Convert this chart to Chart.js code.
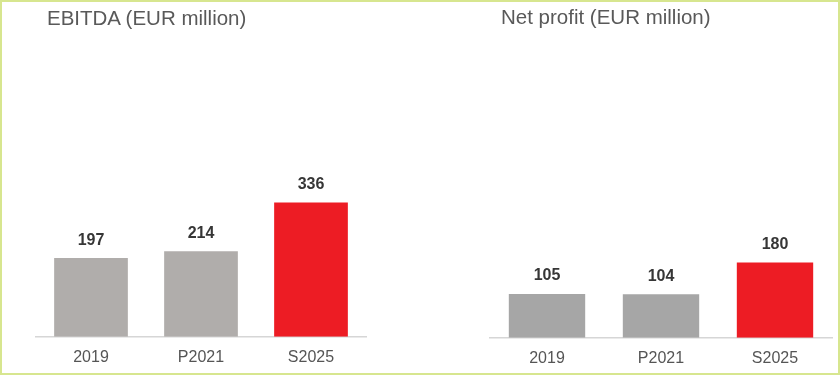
<!DOCTYPE html>
<html>
<head>
<meta charset="utf-8">
<script src="https://cdn.jsdelivr.net/npm/chart.js@4/dist/chart.umd.min.js"></script>
<style>
    html, body { margin: 0; padding: 0; background: #fff; overflow: hidden; }
    #frame {
        position: absolute; left: 0; top: 0; width: 840px; height: 375px;
        box-sizing: border-box; border: 2px solid #d7e68f; z-index: 2;
    }
    .box { position: absolute; top: 0; width: 420px; height: 375px; overflow: hidden; }
    .box canvas { position: absolute; left: 0; top: 0; }
    .title {
        position: absolute; font-family: 'Liberation Sans', Arial, sans-serif;
        font-size: 20.5px; line-height: 24px; color: #595959; white-space: nowrap;
    }
</style>
</head>
<body>
<div id="frame"></div>
<div class="box" style="left:0"><canvas id="ebitdaChart" width="420" height="388"></canvas></div>
<div class="box" style="left:420px"><canvas id="netChart" width="420" height="388"></canvas></div>
<div class="title" style="left:47px; top:6px">EBITDA (EUR million)</div>
<div class="title" style="left:501px; top:5px">Net profit (EUR million)</div>
<script>
const categories = ['2019', 'P2021', 'S2025'];
const ebitdaValues = [197, 214, 336];
const netProfitValues = [105, 104, 180];
const ebitdaColors = ['#b0adab', '#b0adab', '#ed1c24'];
const netProfitColors = ['#a6a6a6', '#a6a6a6', '#ed1c24'];
const ebitdaMax = 693;
const netProfitMax = 665;

// values above the bars (no datalabels plugin available offline)
const valueLabels = {
    id: 'valueLabels',
    afterDatasetsDraw(chart) {
        const ctx = chart.ctx;
        const meta = chart.getDatasetMeta(0);
        const data = chart.data.datasets[0].data;
        ctx.save();
        ctx.font = 'bold 16px "Liberation Sans", Arial, sans-serif';
        ctx.fillStyle = '#363636';
        ctx.textAlign = 'center';
        ctx.textBaseline = 'middle';
        meta.data.forEach(function (bar, i) {
            ctx.fillText(String(data[i]), bar.x, bar.y - 18);
        });
        ctx.restore();
    },
};

function makeChart(id, values, colors, yMax, padding) {
    return new Chart(document.getElementById(id), {
        type: 'bar',
        data: {
            labels: categories,
            datasets: [
                {
                    data: values,
                    backgroundColor: colors,
                    borderWidth: 0,
                    barPercentage: 0.67,
                    categoryPercentage: 1,
                },
            ],
        },
        options: {
            responsive: false,
            animation: false,
            layout: { padding: padding },
            plugins: {
                legend: { display: false },
                tooltip: { enabled: false },
            },
            scales: {
                x: {
                    grid: { display: false, drawTicks: false },
                    border: { display: true, color: '#d6d6d6', width: 1.5 },
                    ticks: {
                        padding: 11,
                        color: '#555555',
                        font: { family: '"Liberation Sans", Arial, sans-serif', size: 16 },
                    },
                },
                y: {
                    display: false,
                    min: 0,
                    max: yMax,
                },
            },
        },
        plugins: [valueLabels],
    });
}

makeChart('ebitdaChart', ebitdaValues, ebitdaColors, ebitdaMax, { left: 36, right: 54, top: 60, bottom: 10 });
makeChart('netChart', netProfitValues, netProfitColors, netProfitMax, { left: 70, right: 8, top: 60, bottom: 9 });
</script>
</body>
</html>
